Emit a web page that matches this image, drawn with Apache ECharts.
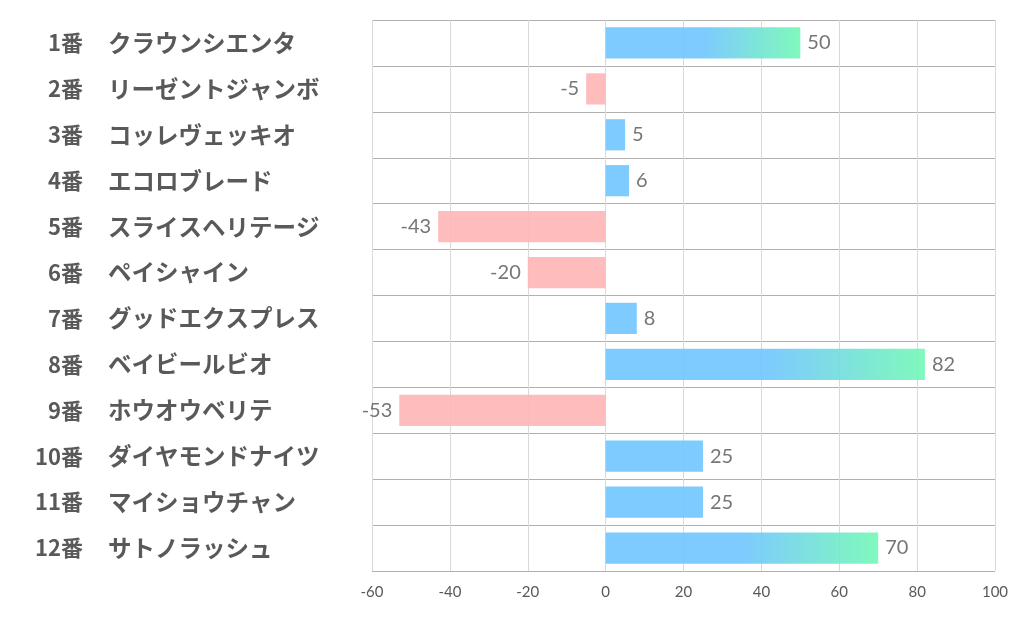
<!DOCTYPE html>
<html><head><meta charset="utf-8">
<script src="https://cdn.jsdelivr.net/npm/echarts@6/dist/echarts.min.js"></script>
<style>html,body{margin:0;padding:0;background:#fff}#c{width:1022px;height:626px}</style>
</head><body><div id="c"></div>
<script>
const nums = ['1番','2番','3番','4番','5番','6番','7番','8番','9番','10番','11番','12番'];
const names = ['クラウンシエンタ','リーゼントジャンボ','コッレヴェッキオ','エコロブレード','スライスヘリテージ','ペイシャイン','グッドエクスプレス','ベイビールビオ','ホウオウベリテ','ダイヤモンドナイツ','マイショウチャン','サトノラッシュ'];
const values = [50,-5,5,6,-43,-20,8,82,-53,25,25,70];
const xTicks = [-60,-40,-20,0,20,40,60,80,100];

const BLUE = 'rgba(111,197,255,0.9)';
const GREEN = 'rgba(114,248,181,0.9)';
const PINK = 'rgba(255,181,182,0.9)';

const data = values.map(v => {
  let color;
  if (v < 0) color = PINK;
  else if (v >= 50) color = {type:'linear',x:0,y:0,x2:1,y2:0,colorStops:[{offset:0,color:BLUE},{offset:0.5,color:BLUE},{offset:1,color:GREEN}]};
  else color = BLUE;
  return {value:v, itemStyle:{color}, label:{position: v<0?'left':'right'}};
});

const chart = echarts.init(document.getElementById('c'));
chart.setOption({
  animation:false,
  grid:{left:372,right:27,top:20,bottom:55},
  xAxis:{type:'value',min:xTicks[0],max:xTicks[xTicks.length-1],interval:20,
    axisLine:{show:false},axisTick:{show:false},
    splitLine:{show:true,lineStyle:{color:'#d9d9d9',width:1}},
    axisLabel:{color:'#595959',fontSize:15,fontFamily:'Lato, sans-serif',margin:14}},
  yAxis:[
    {type:'category',data:nums,inverse:true,
     axisLine:{show:false},axisTick:{show:false},
     splitLine:{show:true,lineStyle:{color:'#b0b0b0',width:1}},
     axisLabel:{color:'#595959',fontSize:22,fontWeight:'bold',fontFamily:'"Noto Sans CJK JP", sans-serif',margin:289,align:'right'}},
    {type:'category',data:names,inverse:true,position:'left',
     axisLine:{show:false},axisTick:{show:false},splitLine:{show:false},
     axisLabel:{color:'#595959',fontSize:23.5,fontWeight:'bold',fontFamily:'"Noto Sans CJK JP", sans-serif',margin:264,align:'left'}}
  ],
  series:[{type:'bar',yAxisIndex:0,data:data,barWidth:'68%',
    label:{show:true,color:'#767676',fontSize:20,fontFamily:'Lato, sans-serif',distance:7}}]
});
</script></body></html>
